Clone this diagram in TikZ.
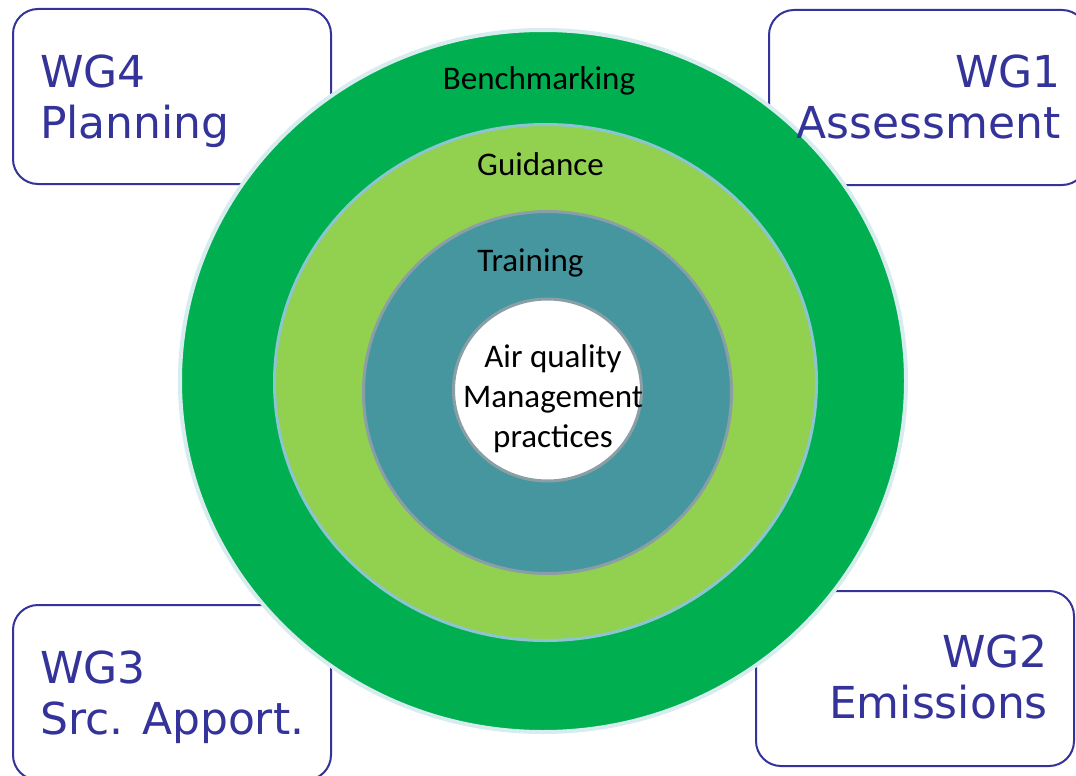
\documentclass[tikz,border=0pt]{standalone}
\usepackage{fontspec}
\setmainfont{Carlito}
\newfontfamily\wgfont{DejaVu Sans}
\definecolor{wgblue}{RGB}{51,51,153}
\definecolor{outergreen}{RGB}{0,176,80}
\definecolor{lightgreen}{RGB}{146,208,80}
\definecolor{ringteal}{RGB}{70,150,159}
\definecolor{rimcyan}{RGB}{214,236,238}
\definecolor{rimblue}{RGB}{140,196,210}
\definecolor{rimgray}{RGB}{138,158,165}
\begin{document}
\begin{tikzpicture}[x=1pt,y=-1pt,
    wgbox/.style={draw=wgblue, line width=2pt, rounded corners=25pt,
        minimum width=318pt, minimum height=175pt, anchor=north west, inner sep=0pt},
    wglabel/.style={text=wgblue, font=\wgfont\fontsize{44}{51}\selectfont, inner sep=0pt},
    ringlabel/.style={font=\fontsize{33}{40}\selectfont, inner sep=0pt, anchor=base}]
    \clip (0,0) rectangle (1076,776);
    \fill[white] (0,0) rectangle (1076,776);
    % working group boxes
    \node[wgbox] (wg4) at (12,8) {};
    \node[wgbox] (wg1) at (768,9) {};
    \node[wgbox] (wg3) at (12,604) {};
    \node[wgbox] (wg2) at (755,590) {};
    % rings
    \filldraw[fill=outergreen, draw=rimcyan, line width=4pt] (543,381) ellipse (363pt and 351pt);
    \filldraw[fill=lightgreen, draw=rimblue, line width=3pt] (545.5,382.5) ellipse (271pt and 258pt);
    \filldraw[fill=ringteal, draw=rimgray, line width=3pt] (547.5,392.5) ellipse (184pt and 181pt);
    \filldraw[fill=white, draw=rimgray, line width=3pt] (547.5,390) ellipse (94pt and 91pt);
    \node[ringlabel] (bench) at (539,89) {Benchmarking};
    \node[ringlabel] (guide) at (540.5,175) {Guidance};
    \node[ringlabel] (train) at (530.5,271) {Training};
    \node[ringlabel, align=center] (aqm) at (553,447) {Air quality\\Management\\practices};
    % box texts (base = last line)
    \node[wglabel, align=left, anchor=base west] (wg4text) at ([shift={(28,130)}]wg4.north west) {WG4\\Planning};
    \node[wglabel, align=right, anchor=base east] (wg1text) at ([shift={(-27,129)}]wg1.north east) {WG1\\Assessment};
    \node[wglabel, align=left, anchor=base west] (wg3text) at ([shift={(28,130)}]wg3.north west) {WG3\\Src. Apport.};
    \node[wglabel, align=right, anchor=base east] (wg2text) at ([shift={(-27,128)}]wg2.north east) {WG2\\Emissions};
\end{tikzpicture}
\end{document}
